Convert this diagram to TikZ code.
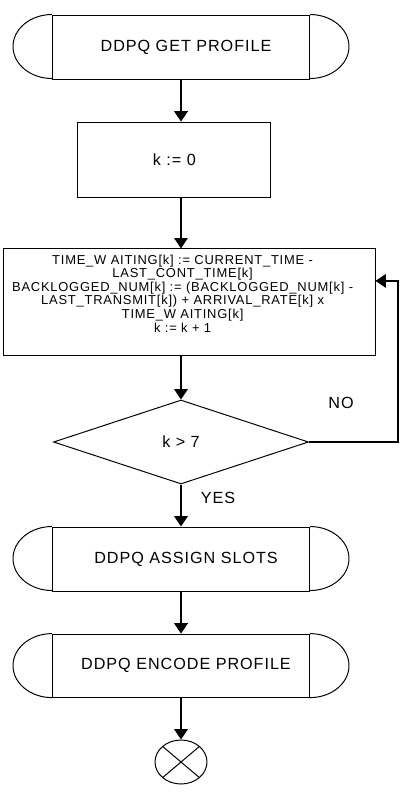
\documentclass[tikz,border=0pt]{standalone}
\usepackage{fontspec}
\setmainfont{Liberation Sans}[LetterSpace=6]
\usepackage{tikz}
\usetikzlibrary{positioning,arrows.meta,shapes.geometric}
\usepackage{xcolor}

\begin{document}
\begin{tikzpicture}[node distance=0.55cm, every node/.style={font=\fontsize{11.5}{13}\selectfont}]
\tikzstyle{term}=[draw, line width=0.7pt, minimum width=6.425cm, minimum height=1.6cm, align=center,
                  execute at begin node=\hspace*{0.25cm}]
\tikzstyle{box}=[draw, line width=0.7pt, align=center]
\tikzstyle{flow}=[-{Triangle[length=0.26cm,width=0.34cm]}, line width=1pt]
\useasboundingbox (0,0) rectangle (10.125,-19.875);
\node[term] (getprof) at (4.525,-1.175) {DDPQ GET PROFILE};
\node[box, minimum width=4.825cm, minimum height=1.875cm] (init) at (4.36,-3.99) {k := 0};
\node[box, minimum width=9.3cm, minimum height=2.675cm] (calc) at (4.725,-7.56) {};
\node[below=0.15cm of calc.north, xshift=-0.16cm, inner sep=0, align=center,
      font=\fontsize{9.2}{9.7}\selectfont] (calctext)
  {TIME\_W AITING[k] := CURRENT\_TIME -\\
   LAST\_CONT\_TIME[k]\\
   BACKLOGGED\_NUM[k] := (BACKLOGGED\_NUM[k] -\\
   LAST\_TRANSMIT[k]) + ARRIVAL\_RATE[k] x\\
   TIME\_W AITING[k]\\
   k := k + 1};
\node[diamond, draw, line width=0.7pt, inner sep=0, minimum width=6.375cm, minimum height=2.1cm] (test) at (4.525,-11.05) {k > 7};
\node[term] (assign) at (4.525,-13.975) {DDPQ ASSIGN SLOTS};
\node[term, minimum height=1.575cm] (encode) at (4.525,-16.64) {DDPQ ENCODE PROFILE};
\node[ellipse, draw, line width=0.7pt, minimum width=1.3cm, minimum height=1.1cm, inner sep=0,
      path picture={\draw (path picture bounding box.north west) -- (path picture bounding box.south east)
                          (path picture bounding box.south west) -- (path picture bounding box.north east);}] (stop) at (4.525,-19.05) {};
% rounded ends of the terminators
\foreach \n in {getprof,assign,encode} {
  \draw[line width=0.7pt] (\n.north west) arc[start angle=90, end angle=270, x radius=0.975cm, y radius=0.8cm];
  \draw[line width=0.7pt] (\n.north east) arc[start angle=90, end angle=-90, x radius=0.975cm, y radius=0.8cm];
}
\draw[flow] (getprof.south) -- (getprof.south |- init.north);
\draw[flow] (init.south -| getprof.south) -- (calc.north -| getprof.south);
\draw[flow] (calc.south -| test.north) -- (test.north);
\draw[flow] (test.south) -- (assign.north);
\draw[flow] (assign.south) -- (encode.north);
\draw[flow] (encode.south) -- (stop.north);
\draw[flow] (test.east) -- ++(2.225,0) |- ([yshift=0.5375cm]calc.east);
\node (no) at (8.525,-10.075) {NO};
\node (yes) at (5.45,-12.45) {YES};
\end{tikzpicture}
\end{document}
